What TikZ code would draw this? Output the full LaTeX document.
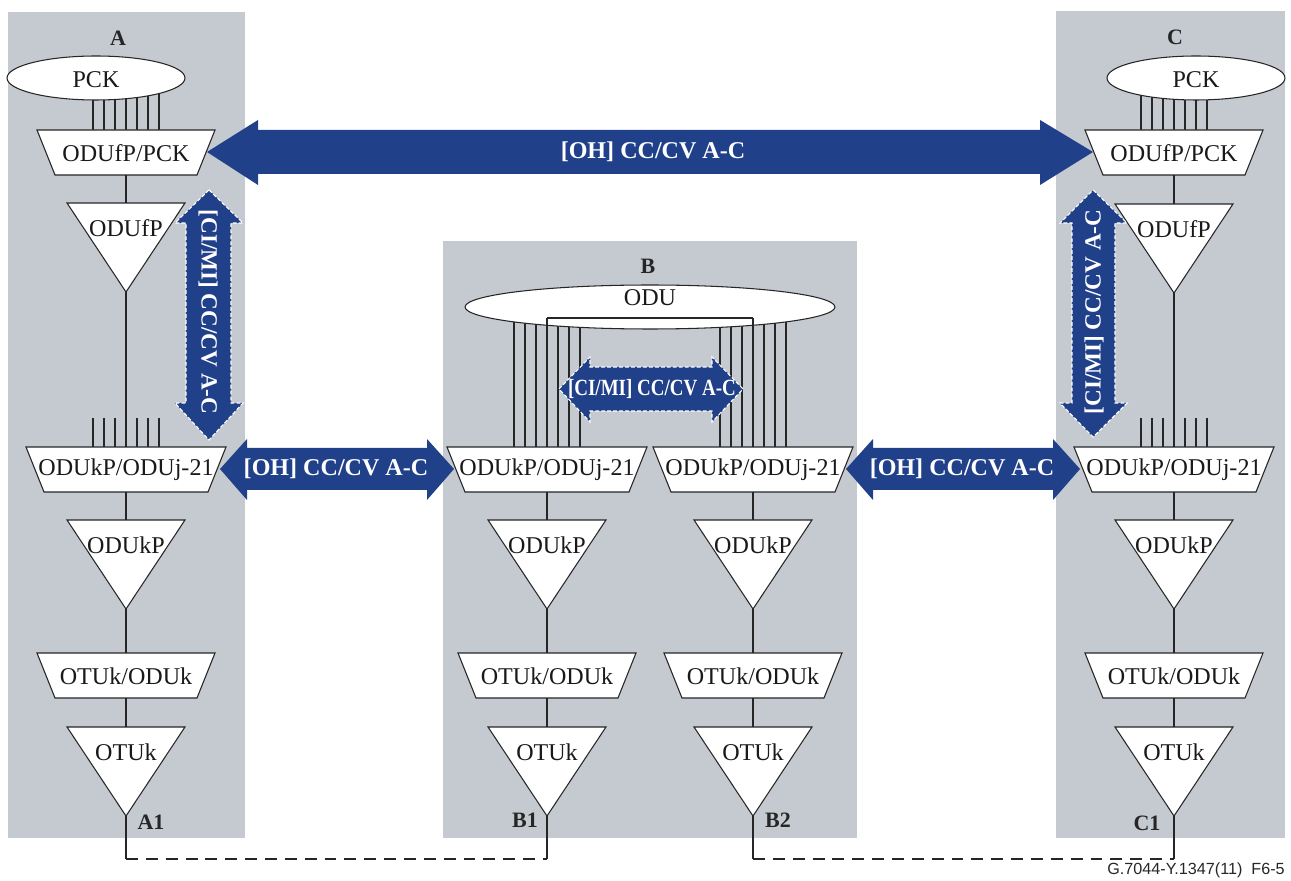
\documentclass[tikz,border=0pt]{standalone}
\usepackage{fontspec}
\setmainfont{Liberation Serif}
\newfontfamily\footfont{Liberation Sans}
\usetikzlibrary{shapes.geometric,calc}
\definecolor{boxgrey}{RGB}{197,201,208}
\definecolor{arrowblue}{RGB}{33,64,138}
\pgfdeclarelayer{bg}
\pgfdeclarelayer{mid}
\pgfsetlayers{bg,mid,main}
\tikzset{
  shapeline/.style={draw=black!85,fill=white,line width=0.6pt,line join=miter},
  wire/.style={draw=black!85,line width=0.6pt},
  dashwire/.style={draw=black!85,line width=0.6pt,dash pattern=on 6.8pt off 4.5pt},
  lbl/.style={inner sep=0pt,font=\fontsize{13.7}{15}\selectfont,text=black!90},
  tag/.style={inner sep=0pt,font=\fontsize{12.5}{14}\selectfont\bfseries,text=black!85},
  oval/.style={ellipse,draw=black!85,fill=white,line width=0.6pt,inner sep=0pt},
  bigarrow/.style={fill=arrowblue,draw=none},
  dasharrow/.style={fill=arrowblue,draw=white,line width=0.6pt,dash pattern=on 2.2pt off 1.2pt},
  arrtext/.style={inner sep=0pt,text=white,font=\fontsize{13.7}{15}\selectfont\bfseries},
  arrtextv/.style={inner sep=0pt,text=white,font=\fontsize{13.2}{15}\selectfont\bfseries},
}
\newcommand\mktrap[5]{% name, x, ytop, halftop, text
  \draw[shapeline] (#2-#4,#3) -- (#2+#4,#3) -- (#2+#4-18,#3+45) -- (#2-#4+18,#3+45) -- cycle;
  \node[lbl] (#1) at (#2,#3+23) {#5};
  \coordinate (#1-t) at (#2,#3);
  \coordinate (#1-b) at (#2,#3+45);}
\newcommand\mktri[4]{% name, x, ytop, text
  \draw[shapeline] (#2-59,#3) -- (#2+59,#3) -- (#2,#3+89) -- cycle;
  \node[lbl] (#1) at (#2,#3+25) {#4};
  \coordinate (#1-t) at (#2,#3);
  \coordinate (#1-b) at (#2,#3+89);}
\begin{document}
\begin{tikzpicture}[x=0.02cm,y=-0.02cm]
\useasboundingbox (0,0) rectangle (1291,881);
\begin{pgfonlayer}{bg}
  \fill[boxgrey] (8,12) rectangle (245,838);
  \fill[boxgrey] (443,241) rectangle (857,838);
  \fill[boxgrey] (1056,11) rectangle (1285,838);
\end{pgfonlayer}
% region labels
\node[tag] (labA) at (118,38) {A};
\node[tag] (labB) at (648,266) {B};
\node[tag] (labC) at (1175,37) {C};
% ---------- column A (x=126)
\node[oval,minimum width=3.56cm,minimum height=0.88cm] (pckA) at (96,78) {};
\node[lbl] (pckAt) at (96,80) {PCK};
\mktrap{fpA}{126}{130}{89}{ODUfP/PCK}
\mktri{fA}{126}{203}{ODUfP}
\mktrap{kjA}{126}{447}{100}{ODUkP/ODUj-21}
\mktri{kA}{126}{520}{ODUkP}
\mktrap{okA}{126}{653}{89}{OTUk/ODUk}
\mktri{oA}{126}{727}{OTUk}
\node[tag] (labA1) at (151,822) {A1};
% ---------- column B1 (x=547), B2 (x=753)
\node[oval,minimum width=7.4cm,minimum height=0.88cm] (oduB) at (650,307) {};
\node[lbl] (oduBt) at (650,298) {ODU};
\mktrap{kjB1}{547}{447}{100}{ODUkP/ODUj-21}
\mktri{kB1}{547}{520}{ODUkP}
\mktrap{okB1}{547}{653}{89}{OTUk/ODUk}
\mktri{oB1}{547}{727}{OTUk}
\node[tag] (labB1) at (525,820) {B1};
\mktrap{kjB2}{753}{447}{100}{ODUkP/ODUj-21}
\mktri{kB2}{753}{520}{ODUkP}
\mktrap{okB2}{753}{653}{89}{OTUk/ODUk}
\mktri{oB2}{753}{727}{OTUk}
\node[tag] (labB2) at (778,820) {B2};
% ---------- column C (x=1174)
\node[oval,minimum width=3.56cm,minimum height=0.88cm] (pckC) at (1196,78) {};
\node[lbl] (pckCt) at (1196,80) {PCK};
\mktrap{fpC}{1174}{130}{89}{ODUfP/PCK}
\mktri{fC}{1174}{204}{ODUfP}
\mktrap{kjC}{1174}{447}{100}{ODUkP/ODUj-21}
\mktri{kC}{1174}{520}{ODUkP}
\mktrap{okC}{1174}{653}{89}{OTUk/ODUk}
\mktri{oC}{1174}{727}{OTUk}
\node[tag] (labC1) at (1147,823) {C1};
% ---------- bundles (behind ellipses)
\begin{pgfonlayer}{mid}
  \foreach \d in {-33,-22,-11,0,11,22,33}{
    \draw[wire] ($(fpA-t)+(\d,0)$) -- ($(fpA-t)+(\d,-60)$);
    \draw[wire] ($(fpC-t)+(\d,0)$) -- ($(fpC-t)+(\d,-60)$);
    \draw[wire] ($(kjA-t)+(\d,0)$) -- ($(kjA-t)+(\d,-29)$);
    \draw[wire] ($(kjC-t)+(\d,0)$) -- ($(kjC-t)+(\d,-29)$);
    \draw[wire] ($(kjB1-t)+(\d,0)$) -- ($(kjB1-t)+(\d,-140)$);
    \draw[wire] ($(kjB2-t)+(\d,0)$) -- ($(kjB2-t)+(\d,-140)$);
  }
\end{pgfonlayer}
% ODU bracket
\coordinate (brL) at (547,318);
\coordinate (brR) at (753,318);
\draw[wire] (kjB1-t) -- (brL);
\draw[wire] (kjB2-t) -- (brR);
\draw[draw=black!85,line width=1.1pt] (brL) -- (brR);
% ---------- vertical connectors
\draw[wire] (fpA-b) -- (fA-t);
\draw[wire] (fA-b) -- (kjA-t);
\draw[wire] (kjA-b) -- (kA-t);
\draw[wire] (kA-b) -- (okA-t);
\draw[wire] (okA-b) -- (oA-t);
\draw[wire] (kjB1-b) -- (kB1-t);
\draw[wire] (kB1-b) -- (okB1-t);
\draw[wire] (okB1-b) -- (oB1-t);
\draw[wire] (kjB2-b) -- (kB2-t);
\draw[wire] (kB2-b) -- (okB2-t);
\draw[wire] (okB2-b) -- (oB2-t);
\draw[wire] (fpC-b) -- (fC-t);
\draw[wire] (fC-b) -- (kjC-t);
\draw[wire] (kjC-b) -- (kC-t);
\draw[wire] (kC-b) -- (okC-t);
\draw[wire] (okC-b) -- (oC-t);
% ---------- bottom links
\coordinate (endA) at (126,859);
\coordinate (endB1) at (547,859);
\coordinate (endB2) at (753,859);
\coordinate (endC) at (1174,859);
\draw[wire] (oA-b) -- (endA);
\draw[wire] (oB1-b) -- (endB1);
\draw[wire] (oB2-b) -- (endB2);
\draw[wire] (oC-b) -- (endC);
\draw[dashwire] (endA) -- (endB1);
\draw[dashwire] (endB2) -- (endC);
% ---------- arrows
\fill[bigarrow] (207,152) -- (258,120) -- (258,130) -- (1040,130) -- (1040,120) -- (1093,152)
  -- (1040,185) -- (1040,174) -- (258,174) -- (258,185) -- cycle;
\node[arrtext] (ohTop) at (653,152) {[OH] CC/CV A-C};
\fill[bigarrow] (220,469) -- (247,439) -- (247,448) -- (427,448) -- (427,439) -- (454,469)
  -- (427,500) -- (427,490) -- (247,490) -- (247,500) -- cycle;
\node[arrtext] (ohAB) at (336,469) {[OH] CC/CV A-C};
\fill[bigarrow] (846,469) -- (873,439) -- (873,448) -- (1053,448) -- (1053,439) -- (1080,469)
  -- (1053,500) -- (1053,490) -- (873,490) -- (873,500) -- cycle;
\node[arrtext] (ohBC) at (962,469) {[OH] CC/CV A-C};
\path[dasharrow] (209,190) -- (243,223) -- (231,223) -- (231,403) -- (243,403) -- (209,440)
  -- (175,403) -- (186,403) -- (186,223) -- (175,223) -- cycle;
\node[arrtextv,rotate=-90] (ciA) at (208,312) {[CI/MI] CC/CV A-C};
\path[dasharrow] (1093,190) -- (1127,223) -- (1115,223) -- (1115,403) -- (1127,403) -- (1093,437)
  -- (1060,403) -- (1072,403) -- (1072,223) -- (1060,223) -- cycle;
\node[arrtextv,rotate=90] (ciC) at (1094,312) {[CI/MI] CC/CV A-C};
\path[dasharrow] (559,389) -- (590,357) -- (590,367) -- (712,367) -- (712,357) -- (743,389)
  -- (712,422) -- (712,411) -- (590,411) -- (590,422) -- cycle;
\node[arrtextv] (ciB) at (652,389) {\scalebox{0.82}[1]{[CI/MI] CC/CV A-C}};
% footer
\node[inner sep=0pt,anchor=east,font=\footfont\fontsize{9.2}{11}\selectfont,text=black!85] (foot) at (1285,870) {G.7044-Y.1347(11)\ \ F6-5};
\end{tikzpicture}
\end{document}
